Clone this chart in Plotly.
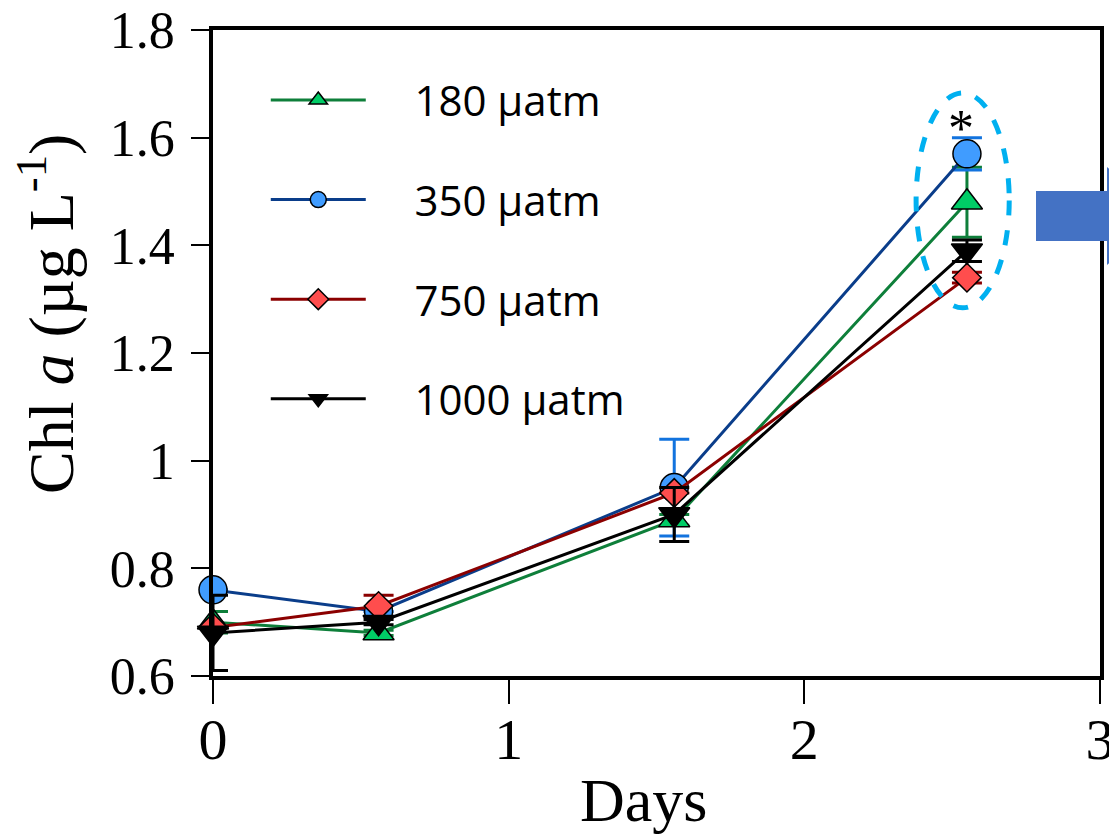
import plotly.graph_objects as go

days = [0, 0.56, 1.56, 2.55]
series_names = ["180 µatm", "350 µatm", "750 µatm", "1000 µatm"]
chl_180 = [0.70, 0.68, 0.89, 1.48]
err_180 = [0.02, 0.005, 0.01, 0.065]
chl_350 = [0.76, 0.72, 0.95, 1.57]
err_350 = [0.0, 0.0, 0.09, 0.03]
chl_750 = [0.69, 0.73, 0.94, 1.34]
err_750 = [0.0, 0.02, 0.0, 0.01]
chl_1000 = [0.68, 0.70, 0.90, 1.39]
err_1000 = [0.07, 0.005, 0.05, 0.02]

styles = [
    dict(line="#0E7F3A", fill="#00CC66", err="#0E7F3A", symbol="triangle-up", size=27),
    dict(line="#0A3D8A", fill="#409CFF", err="#1273DE", symbol="circle", size=28),
    dict(line="#8B0000", fill="#FF4D4D", err="#8B0000", symbol="diamond", size=22),
    dict(line="#000000", fill="#000000", err="#000000", symbol="triangle-down", size=27),
]
values = [chl_180, chl_350, chl_750, chl_1000]
errors = [err_180, err_350, err_750, err_1000]

NB = "\u00a0" * 4

fig = go.Figure()
for i, (name, vals, errs, st) in enumerate(zip(series_names, values, errors, styles)):
    fig.add_trace(go.Scatter(
        x=days, y=vals, name=NB + name, mode="lines+markers",
        line=dict(color=st["line"], width=3),
        marker=dict(symbol=st["symbol"], size=st["size"], color=st["fill"],
                    line=dict(color="black", width=1.5)),
        error_y=dict(type="data", array=errs, color=st["err"], thickness=3, width=15, visible=True),
        cliponaxis=False, legendgroup=f"g{i}",
    ))

# dashed ellipse around the day-2.5 points
fig.add_shape(type="circle", xref="x", yref="y", x0=2.378, x1=2.693, y0=1.284, y1=1.683,
              line=dict(color="#00B0F0", width=5, dash="dash"))

# asterisk
fig.add_annotation(x=2.53, y=1.635, xref="x", yref="y", text="*", showarrow=False,
                   font=dict(family="Liberation Serif", size=52, color="black"), yshift=-10)

# pixel helpers for paper coordinates
L, R, T, B = 213, 1100, 30, 676
def px(x):
    return (x - L) / (R - L)
def py(y):
    return (B - y) / (B - T)

# block arrow at the right edge
path = (f"M {px(1036)},{py(191)} L {px(1107)},{py(191)} L {px(1107)},{py(167)} "
        f"L {px(1160)},{py(216)} L {px(1107)},{py(265)} L {px(1107)},{py(241)} "
        f"L {px(1036)},{py(241)} Z")
fig.add_shape(type="path", xref="paper", yref="paper", path=path,
              fillcolor="#4472C4", line=dict(width=0), layer="above")

# axis titles
fig.add_annotation(x=px(46), y=py(314), xref="paper", yref="paper",
                   text="Chl <i>a</i> (µg L<sup>-1</sup>)", textangle=-90, showarrow=False,
                   xanchor="center", yanchor="middle",
                   font=dict(family="Liberation Serif", size=64, color="black"))
fig.add_annotation(x=px(643), y=py(800), xref="paper", yref="paper",
                   text="Days", showarrow=False, xanchor="center", yanchor="middle",
                   font=dict(family="Liberation Serif", size=62, color="black"))

fig.update_layout(
    width=1109, height=835,
    margin=dict(l=213, r=9, t=30, b=159, autoexpand=False),
    plot_bgcolor="white", paper_bgcolor="white",
    showlegend=True,
    legend=dict(x=0.0595, y=0.944, xanchor="left", yanchor="top",
                font=dict(family="Open Sans", size=42, color="black"),
                itemwidth=95, tracegroupgap=42, bgcolor="rgba(0,0,0,0)"),
    xaxis=dict(range=[0, 3], tickvals=[0, 1, 2, 3], ticks="outside", ticklen=24, tickwidth=1.5,
               tickcolor="black", showline=True, linewidth=3.5, linecolor="black", mirror=True,
               showgrid=False, zeroline=False, ticklabeloverflow="allow", ticklabelstandoff=-14,
               tickfont=dict(family="Liberation Serif", size=58, color="black")),
    yaxis=dict(range=[0.6, 1.8], dtick=0.2, tick0=0.6, ticks="outside", ticklen=18, tickwidth=1.5,
               tickcolor="black", showline=True, linewidth=3.5, linecolor="black", mirror=True,
               showgrid=False, zeroline=False, ticklabeloverflow="allow", ticklabelstandoff=6,
               tickfont=dict(family="Liberation Serif", size=52, color="black")),
)

fig.write_html("out.html")
